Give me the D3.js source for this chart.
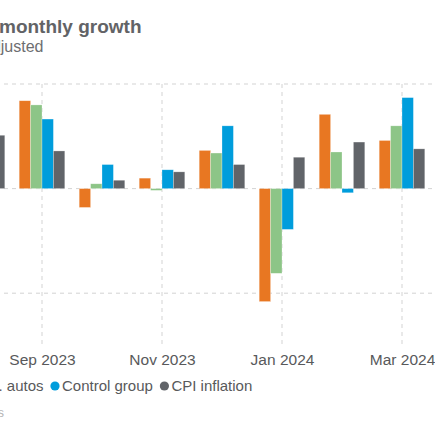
<!DOCTYPE html>
<html>
<head>
<meta charset="utf-8">
<script src="https://cdn.jsdelivr.net/npm/d3@7"></script>
<style>
  html, body { margin: 0; padding: 0; background: #fff; overflow: hidden; }
  svg { display: block; font-family: "Liberation Sans", Arial, sans-serif; }
</style>
</head>
<body>
<svg id="chart" width="435" height="435"></svg>
<script>
// ---- data ----
const months = ["Aug 2023", "Sep 2023", "Oct 2023", "Nov 2023", "Dec 2023", "Jan 2024", "Feb 2024", "Mar 2024"];
const seriesNames = ["Retail sales", "Retail sales ex. autos", "Control group", "CPI inflation"];
const retailSales   = [0.80, 0.84, -0.18, 0.10, 0.365, -1.08, 0.71, 0.46];
const retailExAutos = [0.70, 0.80, 0.046, -0.017, 0.34, -0.81, 0.35, 0.60];
const controlGroup  = [0.30, 0.665, 0.23, 0.18, 0.60, -0.39, -0.04, 0.87];
const cpiInflation  = [0.51, 0.36, 0.08, 0.16, 0.23, 0.30, 0.445, 0.38];
const tickMonths = ["Sep 2023", "Nov 2023", "Jan 2024", "Mar 2024"];
const yGridValues = [-1, 0, 1];
const colors = ["#e87722", "#8dc587", "#009ddc", "#616469"];

const seriesValues = [retailSales, retailExAutos, controlGroup, cpiInflation];
const table = months.map((m, i) => ({ month: m, values: seriesValues.map((s, k) => ({ key: seriesNames[k], value: s[i] })) }));

// ---- layout ----
const svg = d3.select("#chart");
const x0 = d3.scaleBand().domain(months).range([-48, 432]).paddingInner(0.24).paddingOuter(0.12);
const x1 = d3.scaleBand().domain(seriesNames).range([0, x0.bandwidth()]);
const y = d3.scaleLinear().domain([-1.5, 1]).range([345.5, 84]);
const color = d3.scaleOrdinal().domain(seriesNames).range(colors);

// title & subtitle (chart is cropped on the left)
svg.append("text").attr("x", 141.5).attr("y", 33).attr("text-anchor", "end")
  .attr("font-size", 19).attr("font-weight", "bold").attr("fill", "#626366")
  .text("U.S. retail sales, monthly growth");
svg.append("text").attr("x", 43.5).attr("y", 52).attr("text-anchor", "end")
  .attr("font-size", 16).attr("fill", "#6d6e71")
  .text("Percent, seasonally adjusted");

// grid
const grid = svg.append("g").attr("stroke", "#d3d3d3").attr("stroke-dasharray", "4,4").attr("stroke-width", 1);
grid.selectAll("line.h").data(yGridValues).join("line").attr("class", "h")
  .attr("x1", -60).attr("x2", 435)
  .attr("y1", d => y(d)).attr("y2", d => y(d));
grid.selectAll("line.v").data(tickMonths).join("line").attr("class", "v")
  .attr("x1", d => x0(d) + x0.bandwidth() / 2).attr("x2", d => x0(d) + x0.bandwidth() / 2)
  .attr("y1", y(1)).attr("y2", y(-1.5));

// bars
const groups = svg.append("g").selectAll("g").data(table).join("g")
  .attr("transform", d => `translate(${x0(d.month)},0)`);
groups.selectAll("rect").data(d => d.values).join("rect")
  .attr("x", d => x1(d.key))
  .attr("width", x1.bandwidth())
  .attr("y", d => y(Math.max(0, d.value)))
  .attr("height", d => Math.abs(y(d.value) - y(0)))
  .attr("fill", d => color(d.key))
  .attr("stroke", "#ffffff").attr("stroke-opacity", 0.45).attr("stroke-width", 0.6);

// x axis labels
const xAxis = d3.axisBottom(d3.scalePoint().domain(tickMonths)
    .range([x0(tickMonths[0]) + x0.bandwidth() / 2, x0(tickMonths[tickMonths.length - 1]) + x0.bandwidth() / 2]))
  .tickSize(0).tickPadding(0);
const ax = svg.append("g").attr("transform", "translate(0,353)").call(xAxis);
ax.select(".domain").remove();
ax.selectAll("text").attr("font-size", 15.5).attr("fill", "#58595b")
  .attr("font-family", "'Liberation Sans', Arial, sans-serif").attr("dy", "0.77em");

// legend (cropped on the left: third item's dot sits at x=55)
const legend = svg.append("g").attr("transform", "translate(0,386)");
const items = legend.selectAll("g").data(seriesNames).join("g");
items.append("circle").attr("r", 4.6).attr("fill", d => color(d));
items.append("text").attr("x", 7).attr("dy", "0.36em").attr("font-size", 15).attr("fill", "#58595b").text(d => d);
let pos = [];
let cx = 0;
items.each(function(d, i) {
  pos.push(cx);
  const w = d3.select(this).select("text").node().getComputedTextLength();
  cx += 7 + w + 11.5;
});
const shift = 55 - pos[2];
items.attr("transform", (d, i) => `translate(${pos[i] + shift},0)`);

// source
svg.append("text").attr("x", 4).attr("y", 417).attr("text-anchor", "end")
  .attr("font-size", 12.5).attr("fill", "#b5b5b5")
  .text("Sources: U.S. Census Bureau; Bureau of Labor Statistics");
</script>
</body>
</html>
